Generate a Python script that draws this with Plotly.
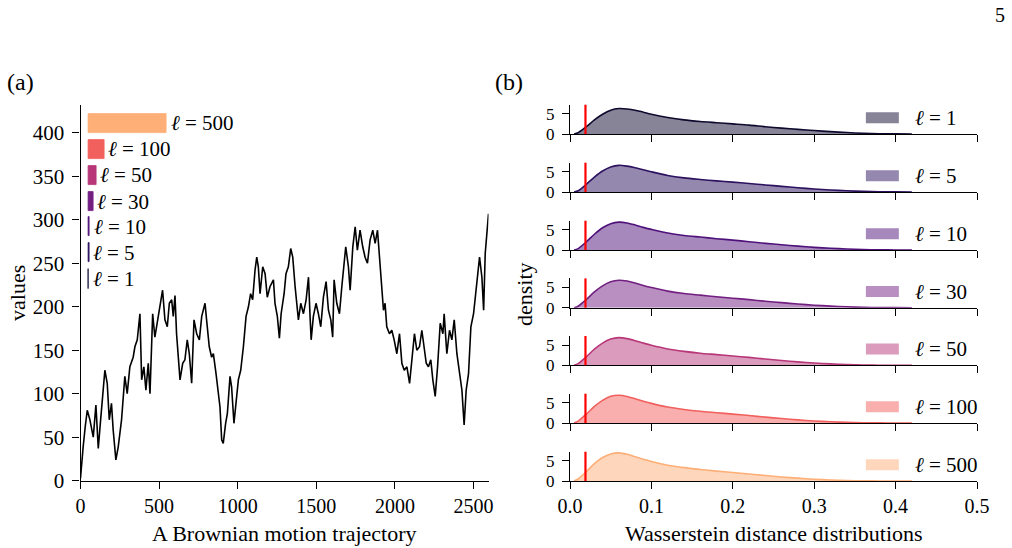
import plotly.graph_objects as go

W, H = 1012, 548
FONT = "Liberation Serif"

# ---------------- data ----------------
TRAJ_X = [0, 8, 17, 30, 43, 60, 81, 98, 113, 128, 155, 170, 183, 197, 208, 225, 240, 261, 282, 297,
          314, 335, 346, 361, 378, 389, 403, 416, 431, 442, 459, 473, 488, 505, 522, 537, 552, 565, 580, 590,
          601, 611, 622, 633, 650, 664, 679, 692, 707, 722, 739, 756, 771, 792, 802, 819, 834, 845, 862, 877,
          887, 898, 908, 923, 934, 951, 961, 976, 989, 1004, 1019, 1036, 1053, 1068, 1082, 1095, 1110, 1121, 1131, 1142,
          1159, 1174, 1188, 1205, 1227, 1237, 1252, 1265, 1276, 1295, 1307, 1322, 1337, 1350, 1365, 1375, 1386, 1401, 1418, 1435,
          1450, 1460, 1467, 1481, 1498, 1513, 1528, 1545, 1562, 1577, 1592, 1604, 1613, 1630, 1647, 1662, 1672, 1687, 1704, 1715,
          1732, 1747, 1761, 1778, 1795, 1810, 1825, 1842, 1859, 1874, 1889, 1906, 1916, 1927, 1937, 1948, 1965, 1980, 1995, 2012,
          2029, 2044, 2059, 2076, 2093, 2107, 2124, 2139, 2156, 2171, 2182, 2199, 2213, 2228, 2241, 2256, 2271, 2288, 2305, 2313,
          2330, 2347, 2362, 2377, 2394, 2411, 2426, 2440, 2453, 2468, 2483, 2500, 2510, 2525, 2538, 2553, 2564, 2574, 2595]
TRAJ_Y = [3, 25, 39, 62, 81, 70, 50, 87, 37, 70, 127, 112, 70, 89, 58, 24, 39, 70, 120, 100,
          131, 142, 154, 162, 192, 116, 131, 104, 135, 100, 192, 165, 181, 196, 219, 185, 177, 204, 208, 189,
          213, 169, 146, 116, 135, 139, 162, 146, 112, 185, 169, 162, 189, 204, 185, 154, 142, 146, 123, 100,
          85, 47, 43, 66, 77, 120, 108, 66, 93, 116, 127, 154, 189, 200, 215, 208, 242, 257, 246, 215,
          246, 238, 211, 223, 231, 204, 189, 164, 192, 215, 238, 246, 267, 257, 223, 204, 185, 204, 192, 208,
          234, 189, 162, 189, 204, 192, 177, 211, 229, 196, 185, 165, 231, 204, 192, 223, 242, 269, 246, 219,
          269, 292, 265, 288, 269, 257, 250, 277, 288, 273, 288, 246, 223, 196, 204, 177, 169, 173, 162, 146,
          169, 135, 127, 131, 112, 135, 169, 150, 154, 173, 158, 135, 131, 139, 116, 97, 131, 181, 169, 192,
          146, 173, 162, 185, 146, 120, 104, 64, 104, 123, 177, 192, 208, 238, 257, 234, 196, 261, 307]

ELLS = [1, 5, 10, 30, 50, 100, 500]
LABELS = ["<i>ℓ</i> = 1", "<i>ℓ</i> = 5", "<i>ℓ</i> = 10", "<i>ℓ</i> = 30", "<i>ℓ</i> = 50",
          "<i>ℓ</i> = 100", "<i>ℓ</i> = 500"]
LINE_COLORS = ["#0d0a2e", "#2c115f", "#4f127b", "#721f81", "#b73779", "#f1605d", "#feae77"]
FILL_COLORS = ["rgba(13,10,46,0.5)", "rgba(44,17,95,0.5)", "rgba(79,18,123,0.5)", "rgba(114,31,129,0.5)",
               "rgba(183,55,121,0.5)", "rgba(241,96,93,0.5)", "rgba(254,174,119,0.5)"]
BAR_BASE = 50
BAR_Y = [232, 262, 292, 321, 351, 381, 411]   # legend-bar centres in panel (a)

DX = [0.005, 0.01, 0.02, 0.03, 0.04, 0.05, 0.06, 0.07, 0.08, 0.09, 0.10, 0.12, 0.14, 0.16, 0.18,
      0.20, 0.22, 0.24, 0.26, 0.28, 0.30, 0.32, 0.34, 0.36, 0.38, 0.40, 0.42]
DENS_1 = [0, 0.3, 1.8, 3.5, 4.9, 5.9, 6.3, 6.2, 5.9, 5.4, 4.9, 4.1, 3.5, 3.1, 2.8, 2.5, 2.2, 1.8, 1.45,
          1.15, 0.85, 0.58, 0.36, 0.18, 0.08, 0.02, 0]
DENS_5 = [0, 0.3, 1.9, 3.7, 5.2, 6.2, 6.6, 6.4, 6.0, 5.5, 5.0, 4.1, 3.5, 3.1, 2.75, 2.45, 2.1, 1.75, 1.4,
          1.05, 0.75, 0.5, 0.3, 0.15, 0.06, 0.02, 0]
DENS_10 = [0, 0.35, 2.0, 3.9, 5.5, 6.5, 6.9, 6.7, 6.2, 5.6, 5.1, 4.2, 3.6, 3.2, 2.8, 2.45, 2.05, 1.65, 1.3,
           0.95, 0.65, 0.42, 0.25, 0.12, 0.05, 0.01, 0]
DENS_30 = [0, 0.35, 2.0, 3.9, 5.4, 6.4, 6.8, 6.6, 6.1, 5.5, 5.0, 4.1, 3.5, 3.1, 2.7, 2.35, 2.0, 1.6, 1.25,
           0.9, 0.62, 0.4, 0.22, 0.1, 0.04, 0.01, 0]
DENS_50 = [0, 0.4, 2.1, 4.0, 5.5, 6.5, 6.85, 6.6, 6.1, 5.5, 4.95, 4.05, 3.45, 3.0, 2.65, 2.3, 1.95, 1.55, 1.2,
           0.85, 0.58, 0.36, 0.2, 0.09, 0.03, 0.01, 0]
DENS_100 = [0, 0.45, 2.2, 4.1, 5.6, 6.6, 6.85, 6.55, 6.0, 5.4, 4.85, 3.95, 3.35, 2.9, 2.55, 2.2, 1.85, 1.45, 1.1,
            0.78, 0.5, 0.3, 0.15, 0.06, 0.02, 0, 0]
DENS_500 = [0, 0.5, 2.3, 4.3, 5.8, 6.7, 6.95, 6.6, 6.0, 5.4, 4.8, 3.9, 3.3, 2.85, 2.45, 2.1, 1.75, 1.35, 1.0,
            0.7, 0.45, 0.25, 0.11, 0.04, 0.01, 0, 0]
DENSITIES = [DENS_1, DENS_5, DENS_10, DENS_30, DENS_50, DENS_100, DENS_500]
RED_X = 0.019


def fx(p):
    return p / W


def fy(p):
    return 1 - p / H


fig = go.Figure()
FS = 22
xtickfont = dict(family=FONT, size=20, color="black")
ytickfont = dict(family=FONT, size=21, color="black")
axis_common = dict(showline=True, linecolor="black", linewidth=1.3, ticks="outside", ticklen=7,
                   tickwidth=1.3, tickcolor="black", showgrid=False, zeroline=False,
                   automargin=False)

# ---------------- panel (a) ----------------
fig.add_trace(go.Scatter(x=TRAJ_X, y=TRAJ_Y, mode="lines", line=dict(color="black", width=1.6),
                         xaxis="x", yaxis="y", showlegend=False, hoverinfo="skip"))
fig.add_trace(go.Bar(x=ELLS, y=BAR_Y, base=BAR_BASE, orientation="h", width=22,
                     marker=dict(color=LINE_COLORS, line=dict(color=LINE_COLORS, width=0.8)),
                     xaxis="x", yaxis="y", showlegend=False, hoverinfo="skip"))
annotations = []
for ell, lab, yc in zip(ELLS, LABELS, BAR_Y):
    annotations.append(dict(x=BAR_BASE + ell, y=yc, xref="x", yref="y", text=lab, showarrow=False,
                            xanchor="left", yanchor="middle", xshift=2,
                            font=dict(family=FONT, size=21, color="black")))

layout = dict(
    template="none",
    width=W, height=H, margin=dict(l=0, r=0, t=0, b=0, autoexpand=False),
    paper_bgcolor="white", plot_bgcolor="white", showlegend=False, bargap=0,
    xaxis=dict(domain=[fx(80.5), fx(488.5)], range=[0, 2595], tickvals=[0, 500, 1000, 1500, 2000, 2500],
               anchor="y", tickfont=xtickfont, **axis_common),
    yaxis=dict(domain=[fy(480.7), fy(105)], range=[0, 432], tickvals=list(range(0, 401, 50)),
               anchor="x", tickfont=ytickfont, ticklabelstandoff=4, **axis_common),
)

# ---------------- panel (b) ----------------
ZEROS = [134, 192, 250, 307.7, 365.3, 423, 481]
ROW_H = 29.3
shapes = []
for i, (dens, lc, fc, lab) in enumerate(zip(DENSITIES, LINE_COLORS, FILL_COLORS, LABELS)):
    n = i + 2
    xa, ya = f"x{n}", f"y{n}"
    fig.add_trace(go.Scatter(x=DX, y=dens, mode="lines", fill="tozeroy", fillcolor=fc,
                             line=dict(color=lc, width=1.6, shape="spline", smoothing=0.8),
                             xaxis=xa, yaxis=ya, showlegend=False, hoverinfo="skip"))
    z = ZEROS[i]
    last = i == len(DENSITIES) - 1
    layout[f"xaxis{n}"] = dict(domain=[fx(570), fx(977)], range=[0, 0.5], anchor=ya,
                               tickvals=[0, 0.1, 0.2, 0.3, 0.4, 0.5],
                               ticktext=["0.0", "0.1", "0.2", "0.3", "0.4", "0.5"],
                               showticklabels=last, tickfont=xtickfont, **axis_common)
    layout[f"yaxis{n}"] = dict(domain=[fy(z), fy(z - ROW_H)], range=[0, 7.25], anchor=xa,
                               tickvals=[0, 5], tickfont=dict(family=FONT, size=17, color="black"),
                               ticklabelstandoff=4, **axis_common)
    shapes.append(dict(type="line", xref=xa, yref=f"{ya} domain", x0=RED_X, x1=RED_X, y0=0, y1=1,
                       line=dict(color="#ff0000", width=2.2), layer="above"))
    shapes.append(dict(type="rect", xref=f"{xa} domain", yref=f"{ya} domain", x0=0.727, x1=0.808,
                       y0=0.365, y1=0.74, fillcolor=fc, line=dict(width=0)))
    annotations.append(dict(x=0.843, y=0.54, xref=f"{xa} domain", yref=f"{ya} domain", text=lab,
                            showarrow=False, xanchor="left", yanchor="middle",
                            font=dict(family=FONT, size=21, color="black")))

# ---------------- texts ----------------
def txt(x, y, s, size=FS, angle=0, xanchor="center"):
    annotations.append(dict(x=fx(x), y=fy(y), xref="paper", yref="paper", text=s, showarrow=False,
                            xanchor=xanchor, yanchor="middle", textangle=angle,
                            font=dict(family=FONT, size=size, color="black")))

txt(284.5, 533, "A Brownian motion trajectory")
txt(773.5, 533, "Wasserstein distance distributions")
txt(17, 293, "values", angle=-90)
txt(524, 294, "density", angle=-90)
txt(20, 82, "(a)", size=24)
txt(509, 82, "(b)", size=24)
txt(1000, 15, "5", size=20)

layout["annotations"] = annotations
layout["shapes"] = shapes
fig.update_layout(**layout)
fig.write_html("out.html")
